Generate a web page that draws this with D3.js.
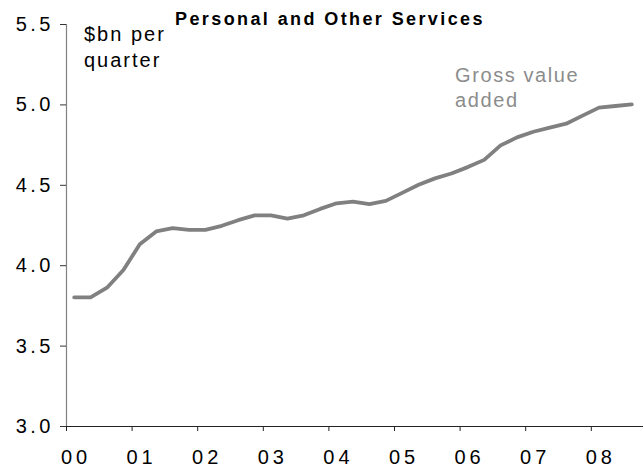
<!DOCTYPE html>
<html><head><meta charset="utf-8">
<script src="https://cdn.jsdelivr.net/npm/d3@7"></script>
<style>body{margin:0;background:#fff} svg{display:block}</style>
</head><body>
<svg id="c" width="643" height="468"></svg>
<script>
// ---- data ----
const quarters = [
  "2000Q1","2000Q2","2000Q3","2000Q4",
  "2001Q1","2001Q2","2001Q3","2001Q4",
  "2002Q1","2002Q2","2002Q3","2002Q4",
  "2003Q1","2003Q2","2003Q3","2003Q4",
  "2004Q1","2004Q2","2004Q3","2004Q4",
  "2005Q1","2005Q2","2005Q3","2005Q4",
  "2006Q1","2006Q2","2006Q3","2006Q4",
  "2007Q1","2007Q2","2007Q3","2007Q4",
  "2008Q1","2008Q2","2008Q3"
];
const gva = [
  3.80, 3.80, 3.86, 3.97,
  4.13, 4.21, 4.23, 4.22,
  4.22, 4.245, 4.28, 4.31,
  4.31, 4.29, 4.31, 4.35,
  4.385, 4.395, 4.38, 4.40,
  4.45, 4.50, 4.54, 4.57,
  4.61, 4.655, 4.745, 4.795,
  4.83, 4.855, 4.88, 4.93,
  4.98, 4.99, 5.00
];
const yTicks = [3.0, 3.5, 4.0, 4.5, 5.0, 5.5];
const yearTicks = [2000, 2001, 2002, 2003, 2004, 2005, 2006, 2007, 2008];
const yearLabels = ["00", "01", "02", "03", "04", "05", "06", "07", "08"];
const titleText = "Personal and Other Services";
const unitLines = ["$bn per", "quarter"];
const seriesLines = ["Gross value", "added"];

// ---- chart ----
const svg = d3.select("#c");
const mLeft = 66, mTop = 24, mBottom = 426;
const x = d3.scaleLinear().domain([2000, 2009]).range([mLeft, 656.4]);
const y = d3.scaleLinear().domain([3.0, 5.5]).range([mBottom, mTop]);
const qx = q => { const yr = +q.slice(0, 4), k = +q.slice(5); return yr + (k - 0.5) / 4; };
const font = "'Liberation Sans', Arial, sans-serif";

svg.append("rect").attr("width", 643).attr("height", 468).attr("fill", "#fff");

// y axis
const gy = svg.append("g").attr("transform", `translate(${mLeft},0)`)
  .call(d3.axisLeft(y).tickValues(yTicks).tickFormat(d3.format(".1f")).tickSize(6).tickPadding(6));
gy.select(".domain").attr("stroke", "#808080").attr("stroke-width", 1.2);
gy.selectAll(".tick line").attr("stroke", "#333");
gy.selectAll(".tick text").attr("font-family", font).attr("font-size", 20)
  .attr("letter-spacing", 3.5).attr("fill", "#000");

// x axis
const gx = svg.append("g").attr("transform", `translate(0,${mBottom})`)
  .call(d3.axisBottom(x).tickValues(yearTicks).tickFormat((d, i) => yearLabels[i]).tickSize(5).tickPadding(19).tickSizeOuter(0));
gx.select(".domain").attr("stroke", "#222").attr("stroke-width", 1.2);
gx.selectAll(".tick line").attr("stroke", "#222");
gx.selectAll(".tick text").attr("font-family", font).attr("font-size", 20)
  .attr("letter-spacing", 4).attr("fill", "#000").attr("dx", 9.5);

// line
const line = d3.line().x((d, i) => x(qx(quarters[i]))).y(d => y(d)).curve(d3.curveLinear);
svg.append("path").datum(gva).attr("d", line)
  .attr("fill", "none").attr("stroke", "#808080").attr("stroke-width", 3.8)
  .attr("stroke-linejoin", "round").attr("stroke-linecap", "round");

// title
svg.append("text").attr("x", 175).attr("y", 25).text(titleText)
  .attr("font-family", font).attr("font-weight", "bold").attr("font-size", 18)
  .attr("letter-spacing", 2.4).attr("fill", "#000");

// unit label
svg.append("g").selectAll("text").data(unitLines).join("text")
  .attr("x", 84).attr("y", (d, i) => 41 + i * 26).text(d => d)
  .attr("font-family", font).attr("font-size", 20).attr("letter-spacing", 2.0).attr("fill", "#000");

// series label
svg.append("g").selectAll("text").data(seriesLines).join("text")
  .attr("x", 455).attr("y", (d, i) => 82 + i * 25).text(d => d)
  .attr("font-family", font).attr("font-size", 20).attr("letter-spacing", 1.6).attr("fill", "#8c8c8c");
</script>
</body></html>
